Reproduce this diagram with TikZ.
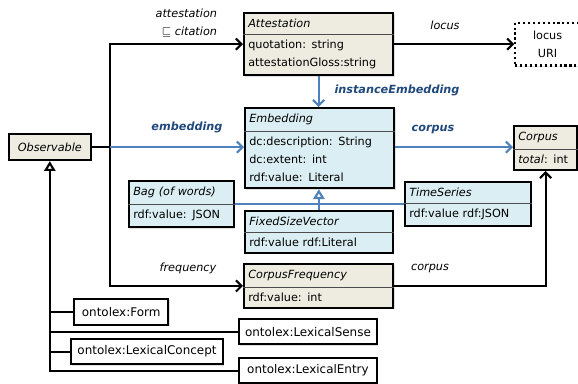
\documentclass[tikz,border=0pt]{standalone}
\usepackage{fontspec}
\setmainfont{DejaVu Sans}
\usetikzlibrary{shapes.multipart, arrows.meta, positioning, shadows}

\definecolor{obsfill}{RGB}{238,236,225}
\definecolor{embfill}{RGB}{218,238,243}
\definecolor{embline}{RGB}{79,129,189}
\definecolor{emblabel}{RGB}{31,73,125}

\begin{document}
\begin{tikzpicture}[x=0.025cm, y=-0.025cm, font=\fontsize{8}{12.8}\selectfont]
  \tikzset{
    umlclass/.style={rectangle split, rectangle split parts=2, rectangle split draw splits=false,
      draw, line width=1.5pt, align=left, text width=#1, inner xsep=3pt, inner ysep=3.6pt,
      drop shadow={shadow xshift=1pt, shadow yshift=-1pt, opacity=0.25}},
    plainbox/.style={draw, line width=1.5pt, fill=white, align=center, inner sep=2pt,
      drop shadow={shadow xshift=1pt, shadow yshift=-1pt, opacity=0.25}},
    lexbox/.style={plainbox, minimum height=17.8pt, font=\fontsize{8.5}{12.8}\selectfont},
    sepline/.style={thin, black!70},
    role/.style={font=\fontsize{8}{12.8}\selectfont\itshape},
    brole/.style={font=\fontsize{8}{12.8}\selectfont\bfseries\itshape, text=emblabel},
    connector/.style={draw, line width=1.5pt, -{Straight Barb[length=4pt, width=8pt]}},
    bconnector/.style={draw, line width=1.5pt, embline, -{Straight Barb[length=4pt, width=8pt]}},
    inherit/.style={draw, line width=1.5pt, -{Triangle[open, fill=white, length=7pt, width=8pt]}}
  }
  \useasboundingbox (0,0) rectangle (578,383);

  % classes
  \node [umlclass=100pt, fill=obsfill, anchor=north west] (att) at (243,12)
    {\textit{Attestation}\nodepart{two}quotation: string\\attestationGloss:string};
  \node [plainbox, dotted, minimum width=46pt, minimum height=30.5pt, right = 3cm of att] (locus)
    {locus\\URI};
  \node [umlclass=100pt, fill=embfill, anchor=north west] (emb) at (244,107)
    {\textit{Embedding}\nodepart{two}dc:description: String\\dc:extent: int\\rdf:value: Literal};
  \node [umlclass=39pt, fill=obsfill, anchor=north west] (corpus) at (513,125)
    {\textit{Corpus}\nodepart{two}\textit{total}: int};
  \node [plainbox, fill=obsfill, minimum width=58pt, minimum height=18.5pt, anchor=north west] (obs) at (8,133)
    {\textit{Observable}};
  \node [umlclass=68.5pt, fill=embfill, anchor=north west] (bag) at (128,180)
    {\textit{Bag (of words)}\nodepart{two}rdf:value: JSON};
  \node [umlclass=83.5pt, fill=embfill, anchor=north west] (ts) at (404,181)
    {\textit{TimeSeries}\nodepart{two}rdf:value rdf:JSON};
  \node [umlclass=99pt, fill=embfill, anchor=north west] (fsv) at (244,210)
    {\textit{FixedSizeVector}\nodepart{two}rdf:value rdf:Literal};
  \node [umlclass=100pt, fill=obsfill, anchor=north west] (cf) at (243,263)
    {\textit{CorpusFrequency}\nodepart{two}rdf:value: int};

  % ontolex classes
  \node [lexbox, minimum width=67pt, minimum height=18.5pt, anchor=north west] (form) at (73,298) {ontolex:Form};
  \node [lexbox, minimum width=98pt, anchor=north west] (sense) at (238,318) {ontolex:LexicalSense};
  \node [lexbox, minimum width=108pt, anchor=north west] (concept) at (70,338) {ontolex:LexicalConcept};
  \node [lexbox, minimum width=98pt, anchor=north west] (entry) at (238,357) {ontolex:LexicalEntry};

  \foreach \n in {att, emb, corpus, bag, ts, fsv, cf}
    \draw [sepline] (\n.text split west) -- (\n.text split east);

  % connectors
  \coordinate (hub) at (110,146);
  \path [draw, line width=1.5pt] (obs.east) -- (obs.east -| hub);
  \path [connector] (hub) |- (att.west);
  \path [connector] (hub) |- (cf.west);
  \path [bconnector] (obs.east -| hub) -- (obs.east -| emb.west);
  \path [connector] (att.east) -- (att.east -| locus.west);
  \path [bconnector] (att.south) -- (att.south |- emb.north);
  \path [bconnector] (obs.east -| emb.east) -- (obs.east -| corpus.west);
  \path [connector] (cf.east) -| (corpus.south);
  \path [draw, line width=1.5pt, embline] (bag.text split east) -- (bag.text split east -| ts.west);
  \path [inherit, embline] (fsv.north) -- (fsv.north |- emb.south);
  \path [inherit] (entry.west) -| (obs.south);
  \path [draw, line width=1.5pt] (form.west) -- (form.west -| obs.south);
  \path [draw, line width=1.5pt] (sense.west) -- (sense.west -| obs.south);
  \path [draw, line width=1.5pt] (concept.west) -- (concept.west -| obs.south);

  % role labels
  \node [role, align=right, anchor=east] (attlbl) at (222,23) {attestation\\$\sqsubseteq$ citation};
  \node [role] (locuslbl) at (445,25) {locus};
  \node [brole] (instlbl) at (397,90) {instanceEmbedding};
  \node [brole] (emblbl) at (187,127) {embedding};
  \node [brole] (corpuslbl) at (433,130) {corpus};
  \node [role] (freqlbl) at (188,268) {frequency};
  \node [role] (cfcorpuslbl) at (430,269) {corpus};
\end{tikzpicture}
\end{document}
